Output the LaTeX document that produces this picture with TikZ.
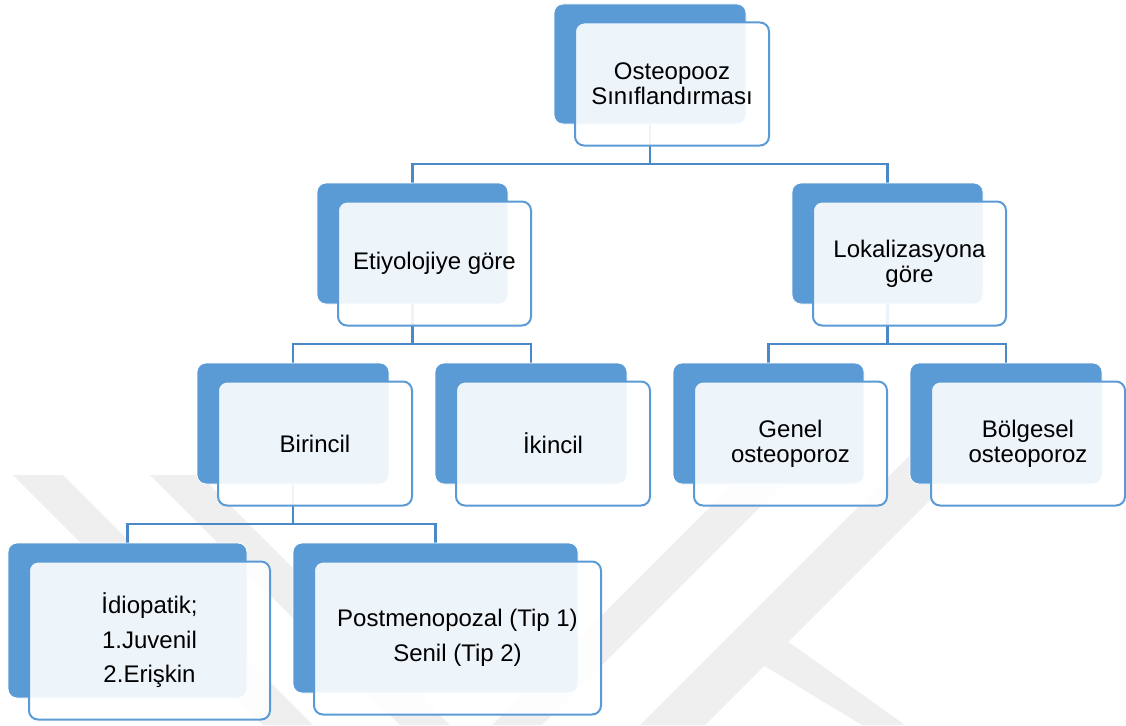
\documentclass[tikz,border=0pt]{standalone}
\usepackage{fontspec}
\setmainfont{Liberation Sans}
\definecolor{accent}{HTML}{5B9BD5}
\definecolor{connc}{HTML}{4A89C8}
\definecolor{wmark}{HTML}{EFEFEF}
\pgfdeclarelayer{bg}
\pgfsetlayers{bg,main}
\newcommand\orgunit[7]{%
  \node[backbox, minimum width=#4pt, minimum height=#5pt] (#1b) at (#2,#3) {};
  \path (#1b.center) ++(22,20) node[frontbox, minimum width={#4+2}, minimum height={#5+3}, #6] (#1f) {#7};
}
\begin{document}
\begin{tikzpicture}[x=1pt,y=-1pt,
  backbox/.style={fill=accent, draw=white, line width=0.8pt, rounded corners=9pt, inner sep=0pt},
  frontbox/.style={fill=white, fill opacity=0.9, text opacity=1, draw=accent, line width=2pt,
    rounded corners=9pt, inner sep=0pt, align=center, font=\fontsize{24}{25}\selectfont},
  conn/.style={draw=connc, line width=2.2pt},
  wm/.style={fill=wmark, draw=none}]
\useasboundingbox (0,0) rectangle (1126,725);

\orgunit{top}{650}{64}{192}{120}{}{Osteopooz\\Sınıflandırması}
\orgunit{eti}{412.5}{243.5}{191}{121}{}{Etiyolojiye göre}
\orgunit{lok}{887.5}{243.5}{191}{121}{}{Lokalizasyona\\göre}
\orgunit{bir}{293}{423.5}{192}{121}{}{Birincil}
\orgunit{iki}{531}{423.5}{192}{121}{}{İkincil}
\orgunit{gen}{768.5}{423.5}{191}{121}{}{Genel\\osteoporoz}
\orgunit{bol}{1006}{423.5}{192}{121}{}{Bölgesel\\osteoporoz}
\orgunit{idi}{127.5}{620.5}{239}{155}{font=\fontsize{24}{34.5}\selectfont}{İdiopatik;\\1.Juvenil\\2.Erişkin}
\orgunit{pos}{435.5}{618}{285}{150}{font=\fontsize{24}{34.5}\selectfont}{Postmenopozal (Tip 1)\\Senil (Tip 2)}

\begin{pgfonlayer}{bg}
  \fill[white] (0,0) rectangle (1126,725);
  % watermark
  \path[wm] (13,475) -- (63,475) -- (313,725) -- (263,725) -- cycle;
  \path[wm] (150,475) -- (200,475) -- (450,725) -- (400,725) -- cycle;
  \path[wm] (492,725) -- (542,725) -- (817,450) -- (767,450) -- cycle;
  \path[wm] (640,725) -- (705,725) -- (990,440) -- (925,440) -- cycle;
  \path[wm] (743,653) -- (769,628) -- (905,725) -- (862,725) -- cycle;
  % connectors
  \coordinate (j1) at (650,164);
  \draw[conn] (topb.center) -- (j1) -| (etib.north);
  \draw[conn] (j1) -| (lokb.north);
  \coordinate (j2) at (412.5,344);
  \draw[conn] (etib.center) -- (j2) -| (birb.north);
  \draw[conn] (j2) -| (ikib.north);
  \coordinate (j3) at (887.5,344);
  \draw[conn] (lokb.center) -- (j3) -| (genb.north);
  \draw[conn] (j3) -| (bolb.north);
  \coordinate (j4) at (293,524);
  \draw[conn] (birb.center) -- (j4) -| (idib.north);
  \draw[conn] (j4) -| (posb.north);
\end{pgfonlayer}
\end{tikzpicture}
\end{document}
